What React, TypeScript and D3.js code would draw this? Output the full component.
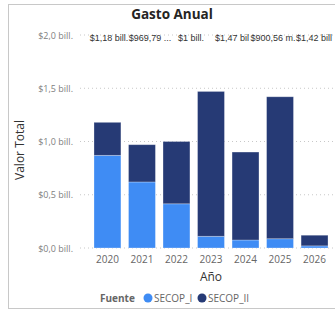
import React from "react";
import * as d3 from "d3";

const years = ["2020", "2021", "2022", "2023", "2024", "2025", "2026"];
const secopI = [0.87, 0.62, 0.415, 0.11, 0.075, 0.087, 0.02];
const secopII = [0.31, 0.35, 0.585, 1.36, 0.826, 1.333, 0.10];
const totalLabels = ["$1,18 bill.", "$969,79 ...", "$1 bill.", "$1,47 bil", "$900,56 m.", "$1,42 bill"];
const yTicks = [0, 0.5, 1.0, 1.5, 2.0];
const tickLabels = ["$0,0 bill.", "$0,5 bill.", "$1,0 bill.", "$1,5 bill.", "$2,0 bill."];
const seriesNames = ["SECOP_I", "SECOP_II"];
const colors = ["#3f8cf4", "#263a75"];

const W = 335;
const H = 312;

export default function App() {
  const x = d3.scaleBand<string>().domain(years).range([90.2, 331.8]).paddingInner(0.22).paddingOuter(0.11);
  const y = d3.scaleLinear().domain([0, 2]).range([248, 35]);
  const labelX = d3.scalePoint<string>().domain(years).range([109, 355]);

  const stackData = years.map((yr, i) => ({ year: yr, SECOP_I: secopI[i], SECOP_II: secopII[i] }));
  const stack = d3.stack<any>().keys(seriesNames)(stackData);

  const font = "'Open Sans', 'Noto Sans', sans-serif";

  return (
    <svg width={W} height={H} style={{ position: "absolute", left: 0, top: 0 }} fontFamily={font}>
      <rect x={8.5} y={4.5} width={W} height={304} fill="white" stroke="#c8c8c8" strokeWidth={1} />
      <text x={172} y={19} textAnchor="middle" fontSize={13.5} fontWeight="bold" fill="#252423">Gasto Anual</text>

      {yTicks.map((t, i) => (
        <g key={t}>
          <line x1={80} x2={W} y1={y(t)} y2={y(t)} stroke="#c8c8c8" strokeWidth={1} strokeDasharray="1,3" />
          <text x={73} y={y(t) + 3.5} textAnchor="end" fontSize={9} fill="#808080">{tickLabels[i]}</text>
        </g>
      ))}

      <text transform={`translate(24,150) rotate(-90)`} textAnchor="middle" fontSize={12} fill="#333">Valor Total</text>

      {stack.map((s, si) => (
        <g key={s.key} fill={colors[si]}>
          {s.map((d: any, i: number) => (
            <rect
              key={i}
              x={x(years[i])}
              width={x.bandwidth()}
              y={y(d[1])}
              height={y(d[0]) - y(d[1])}
              stroke="#ffffff"
              strokeOpacity={0.35}
              strokeWidth={0.8}
            />
          ))}
        </g>
      ))}

      {totalLabels.map((lab, i) => (
        <text key={i} x={labelX(years[i])} y={41} textAnchor="middle" fontSize={9} fill="#333" fontFamily="'Liberation Sans', Arial, sans-serif">{lab}</text>
      ))}

      {years.map((yr) => (
        <text key={yr} x={(x(yr) as number) + x.bandwidth() / 2} y={263} textAnchor="middle" fontSize={10} fill="#666">{yr}</text>
      ))}

      <text x={211} y={281} textAnchor="middle" fontSize={12} fill="#333">Año</text>

      <text x={100} y={301.5} fontSize={10} fontWeight="bold" fill="#666">Fuente</text>
      <circle cx={148} cy={298} r={4.5} fill={colors[0]} />
      <text x={154} y={301.5} fontSize={10} fill="#666">SECOP_I</text>
      <circle cx={202} cy={298} r={4.5} fill={colors[1]} />
      <text x={208} y={301.5} fontSize={10} fill="#666">SECOP_II</text>
    </svg>
  );
}
